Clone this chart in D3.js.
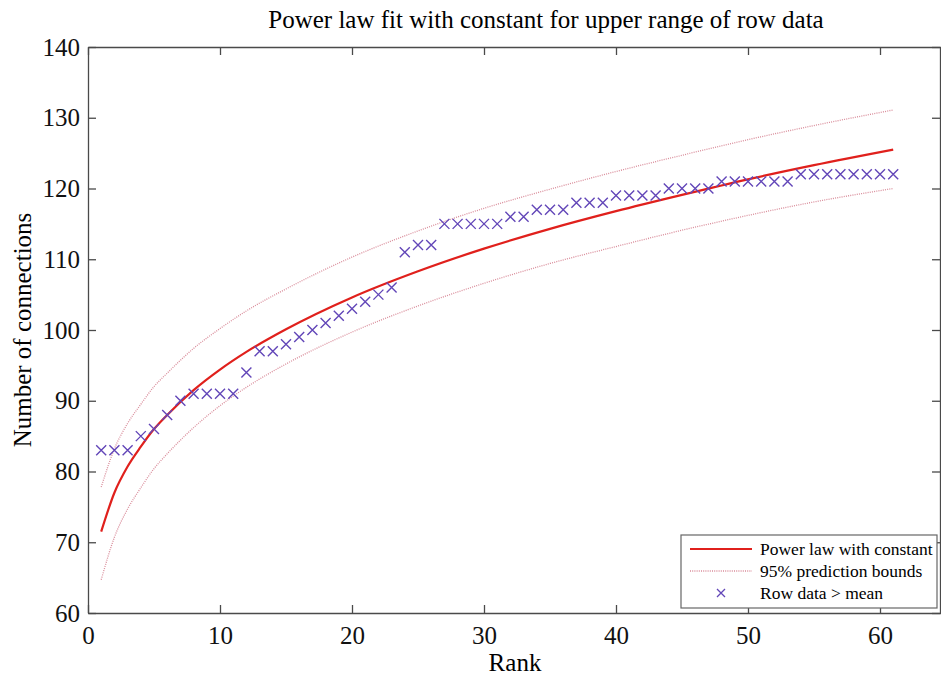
<!DOCTYPE html>
<html>
<head>
<meta charset="utf-8">
<script src="https://cdn.jsdelivr.net/npm/d3@7"></script>
<style>
  body { margin: 0; background: #fff; }
  svg { display: block; font-family: "Liberation Serif", "Times New Roman", serif; }
</style>
</head>
<body>
<svg id="plot"></svg>
<script>
// Row data > mean (rank 1..61)
const ranks = d3.range(1, 62);
const rowData = [83, 83, 83, 85, 86, 88, 90, 91, 91, 91,
                 91, 94, 97, 97, 98, 99, 100, 101, 102, 103,
                 104, 105, 106, 111, 112, 112, 115, 115, 115, 115,
                 115, 116, 116, 117, 117, 117, 118, 118, 118, 119,
                 119, 119, 119, 120, 120, 120, 120, 121, 121, 121,
                 121, 121, 121, 122, 122, 122, 122, 122, 122, 122, 122];

// fitted curve and prediction bounds, read at these ranks
const curveRanks = [1, 2, 3, 4, 5, 6, 8, 10, 12, 15, 20, 25, 30, 35, 40, 45, 50, 55, 61];
const fitValues = [71.5, 77.0, 80.7, 83.5, 86.0, 88.0, 91.5, 94.4, 96.9, 100.1, 104.6, 108.3, 111.5, 114.3, 116.8, 119.1, 121.3, 123.3, 125.5];
const upperBound = [77.8, 83.2, 86.8, 89.5, 92.0, 93.9, 97.4, 100.2, 102.7, 105.8, 110.3, 114.0, 117.2, 119.9, 122.4, 124.7, 126.9, 128.9, 131.1];
const lowerBound = [64.7, 70.7, 74.7, 77.7, 80.4, 82.5, 86.2, 89.3, 91.9, 95.2, 99.7, 103.4, 106.6, 109.4, 111.8, 114.1, 116.2, 118.1, 120.0];

const xTicks = [0, 10, 20, 30, 40, 50, 60];
const yTicks = [60, 70, 80, 90, 100, 110, 120, 130, 140];
const legendLabels = ["Power law with constant", "95% prediction bounds", "Row data > mean"];

const width = 941, height = 679;
const plotLeft = 88, plotTop = 47, plotBottom = 613;
const plotRight = 941;

const svg = d3.select("#plot").attr("width", width).attr("height", height);

const x = d3.scaleLinear().domain([0, (plotRight - plotLeft) / 13.2]).range([plotLeft, plotRight]);
const y = d3.scaleLinear().domain([60, 140]).range([plotBottom, plotTop]);

const axisColor = "#4a4a4a";
const fontSize = 25;

// Title
svg.append("text")
  .attr("x", 546).attr("y", 28)
  .attr("text-anchor", "middle")
  .attr("font-size", fontSize)
  .text("Power law fit with constant for upper range of row data");

// Axes (ticks inward, box mirrored)
const tickLen = 8;
const gx = svg.append("g").attr("transform", `translate(0,${plotBottom})`)
  .call(d3.axisBottom(x).tickValues(xTicks).tickSizeInner(-tickLen).tickSizeOuter(0).tickPadding(13));
const gxTop = svg.append("g").attr("transform", `translate(0,${plotTop})`)
  .call(d3.axisTop(x).tickValues(xTicks).tickSizeInner(-tickLen).tickSizeOuter(0).tickFormat(""));
const gy = svg.append("g").attr("transform", `translate(${plotLeft},0)`)
  .call(d3.axisLeft(y).tickValues(yTicks).tickSizeInner(-tickLen).tickSizeOuter(0).tickPadding(8));
const gyRight = svg.append("g").attr("transform", `translate(${plotRight - 1},0)`)
  .call(d3.axisRight(y).tickValues(yTicks).tickSizeInner(-tickLen).tickSizeOuter(0).tickFormat(""));

[gx, gxTop, gy, gyRight].forEach(g => {
  g.selectAll("path.domain").attr("stroke", axisColor).attr("stroke-width", 1.3);
  g.selectAll(".tick line").attr("stroke", axisColor).attr("stroke-width", 1.3);
  g.selectAll(".tick text").attr("font-size", fontSize).attr("fill", "#111")
    .attr("font-family", "Liberation Serif, serif");
});

// Axis labels
svg.append("text")
  .attr("x", 515).attr("y", 671)
  .attr("text-anchor", "middle")
  .attr("font-size", fontSize)
  .text("Rank");

svg.append("text")
  .attr("transform", "translate(31,330) rotate(-90)")
  .attr("text-anchor", "middle")
  .attr("font-size", fontSize)
  .text("Number of connections");

// Curves
const line = d3.line()
  .x((d, i) => x(curveRanks[i]))
  .y(d => y(d))
  .curve(d3.curveMonotoneX);

const boundColor = "#d98c9a";
[upperBound, lowerBound].forEach(b => {
  svg.append("path")
    .attr("d", line(b))
    .attr("fill", "none")
    .attr("stroke", boundColor)
    .attr("stroke-width", 1.3)
    .attr("stroke-dasharray", "1,1.2");
});

svg.append("path")
  .attr("d", line(fitValues))
  .attr("fill", "none")
  .attr("stroke", "#e0201c")
  .attr("stroke-width", 2.2);

// Markers
const markColor = "#6246b8";
const s = 5;
const crossPath = `M${-s},${-s}L${s},${s}M${-s},${s}L${s},${-s}`;
svg.append("g").selectAll("path")
  .data(rowData)
  .enter()
  .append("path")
  .attr("transform", (d, i) => `translate(${x(ranks[i])},${y(d)})`)
  .attr("d", crossPath)
  .attr("stroke", markColor)
  .attr("stroke-width", 1.4)
  .attr("fill", "none");

// Legend
const lg = svg.append("g");
lg.append("rect")
  .attr("x", 681).attr("y", 535)
  .attr("width", 256).attr("height", 73)
  .attr("fill", "#fff")
  .attr("stroke", "#666")
  .attr("stroke-width", 1.2);

const rowY = [549, 571, 593];
lg.append("line").attr("x1", 690).attr("x2", 752).attr("y1", rowY[0]).attr("y2", rowY[0])
  .attr("stroke", "#e0201c").attr("stroke-width", 2.2);
lg.append("line").attr("x1", 690).attr("x2", 752).attr("y1", rowY[1]).attr("y2", rowY[1])
  .attr("stroke", boundColor).attr("stroke-width", 1.3).attr("stroke-dasharray", "1,1.2");
lg.append("path").attr("transform", `translate(721,${rowY[2]})`)
  .attr("d", `M-4,-4L4,4M-4,4L4,-4`)
  .attr("stroke", markColor).attr("stroke-width", 1.3);

lg.selectAll("text.lab")
  .data(legendLabels)
  .enter()
  .append("text")
  .attr("class", "lab")
  .attr("x", 760)
  .attr("y", (d, i) => rowY[i] + 6)
  .attr("font-size", 17.5)
  .text(d => d);
</script>
</body>
</html>
